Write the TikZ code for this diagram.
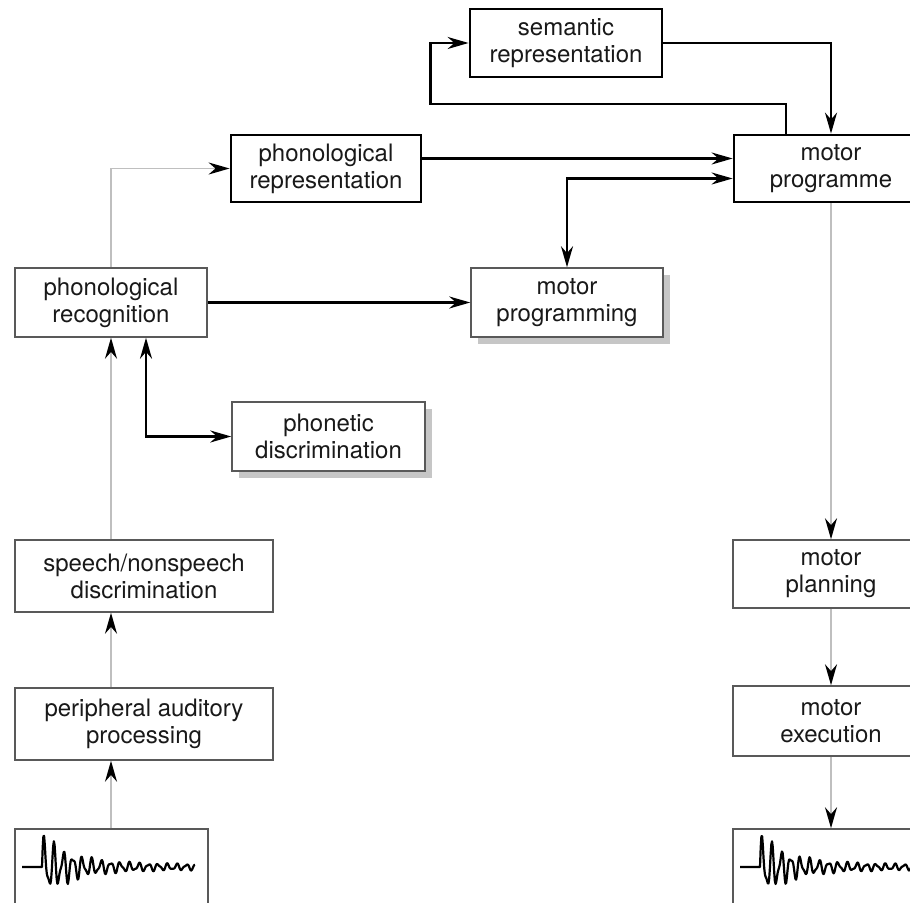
\documentclass[tikz,border=0pt]{standalone}
\usepackage{fontspec}
\setmainfont{TeX Gyre Heros}
\usetikzlibrary{arrows.meta,calc,shadows}

\tikzset{
  thickbox/.style={draw=black, line width=1.4pt, fill=white, align=center, inner sep=0pt,
    minimum height=34pt, text=black!90, font=\fontsize{12}{13.5}\selectfont},
  thinbox/.style={thickbox, draw=gray!70!black, line width=0.75pt},
  shadowbox/.style={thinbox, drop shadow={shadow xshift=3.5pt, shadow yshift=-3.5pt, fill=gray!45, opacity=1}},
  blkline/.style={draw=black, line width=1.2pt, ->},
  grayline/.style={draw=gray!50, line width=0.9pt, -{Stealth[length=10.5pt,width=6pt,color=black]}},
  wave/.style={draw=black, line width=1.1pt, line join=round}
}

\begin{document}
\begin{tikzpicture}[x=0.5pt,y=-0.5pt,>={Stealth[length=10.5pt,width=6pt]}]
\useasboundingbox (0,0) rectangle (910,903);

%Shape: Box [id:sem]
\node[thickbox, minimum width=96pt] (sem) at (566,43) {semantic\\representation};
%Shape: Box [id:mprog]
\node[thickbox, minimum width=97pt, minimum height=33.5pt] (mprog) at (831,168.5) {motor\\programme};
%Shape: Box [id:phrep]
\node[thickbox, minimum width=95pt, minimum height=33.5pt] (phrep) at (326,168.5) {phonological\\representation};
%Shape: Box [id:phrec]
\node[thinbox, minimum width=96pt, minimum height=34.5pt] (phrec) at (111,302.5) {phonological\\recognition};
%Shape: Box [id:mpgm]
\node[shadowbox, minimum width=96pt, minimum height=34.5pt] (mpgm) at (567,302.5) {motor\\programming};
%Shape: Box [id:phdisc]
\node[shadowbox, minimum width=96.5pt, minimum height=34.5pt] (phdisc) at (328.5,436.5) {phonetic\\discrimination};
%Shape: Box [id:spch]
\node[thinbox, minimum width=129pt, minimum height=36pt] (spch) at (144,576) {speech/nonspeech\\discrimination};
%Shape: Box [id:periph]
\node[thinbox, minimum width=129pt, minimum height=36pt] (periph) at (144,724) {peripheral auditory\\processing};
%Shape: Box [id:wavel]
\node[thinbox, minimum width=96.5pt, minimum height=42pt] (wavel) at (111.5,871) {};
%Shape: Box [id:mplan]
\node[thinbox, minimum width=98pt, minimum height=34pt] (mplan) at (831,574) {motor\\planning};
%Shape: Box [id:mexec]
\node[thinbox, minimum width=98pt, minimum height=35pt] (mexec) at (831,721) {motor\\execution};
%Shape: Box [id:waver]
\node[thinbox, minimum width=98pt, minimum height=42pt] (waver) at (831,871) {};

%Shape: Waveform
\draw[wave] (22,867) -- (42,867) -- plot[domain=42:195, samples=220]
  (\x,{867-(26*exp(-(\x-42)/26)+5*exp(-(\x-42)/70)+2.5)*(sin(38*(\x-42))+0.4*sin(67*(\x-42)))/1.25});
\draw[wave] (740,867) -- (760,867) -- plot[domain=760:915, samples=220]
  (\x,{867-(26*exp(-(\x-760)/26)+5*exp(-(\x-760)/70)+2.5)*(sin(38*(\x-760))+0.4*sin(67*(\x-760)))/1.25});

% Arrows: input side
\draw[grayline] (wavel.north -| phrec) -- (periph.south -| phrec);
\draw[grayline] (periph.north -| phrec) -- (spch.south -| phrec);
\draw[grayline] (spch.north -| phrec) -- (phrec.south);
\draw[grayline] (phrec.north) |- (phrep.west);
\coordinate (phrecb) at ($(phrec.south)+(35,0)$);
\draw[blkline, <->] (phrecb) |- (phdisc.west);
\draw[blkline] (phrec.east) -- (mpgm.west);

% Arrows: programme
\draw[blkline] ($(phrep.east)+(0,-10)$) -- ($(mprog.west)+(0,-10)$);
\draw[blkline, <->] ($(mprog.west)+(0,10)$) -| (mpgm.north);
\draw[blkline] ($(mprog.north)+(-45,0)$) |- ($(sem.west)+(-38,61)$) |- (sem.west);
\draw[blkline] (sem.east) -| (mprog.north);

% Arrows: output side
\draw[grayline] (mprog.south) -- (mplan.north);
\draw[grayline] (mplan.south) -- (mexec.north);
\draw[grayline] (mexec.south) -- (waver.north);
\end{tikzpicture}
\end{document}
